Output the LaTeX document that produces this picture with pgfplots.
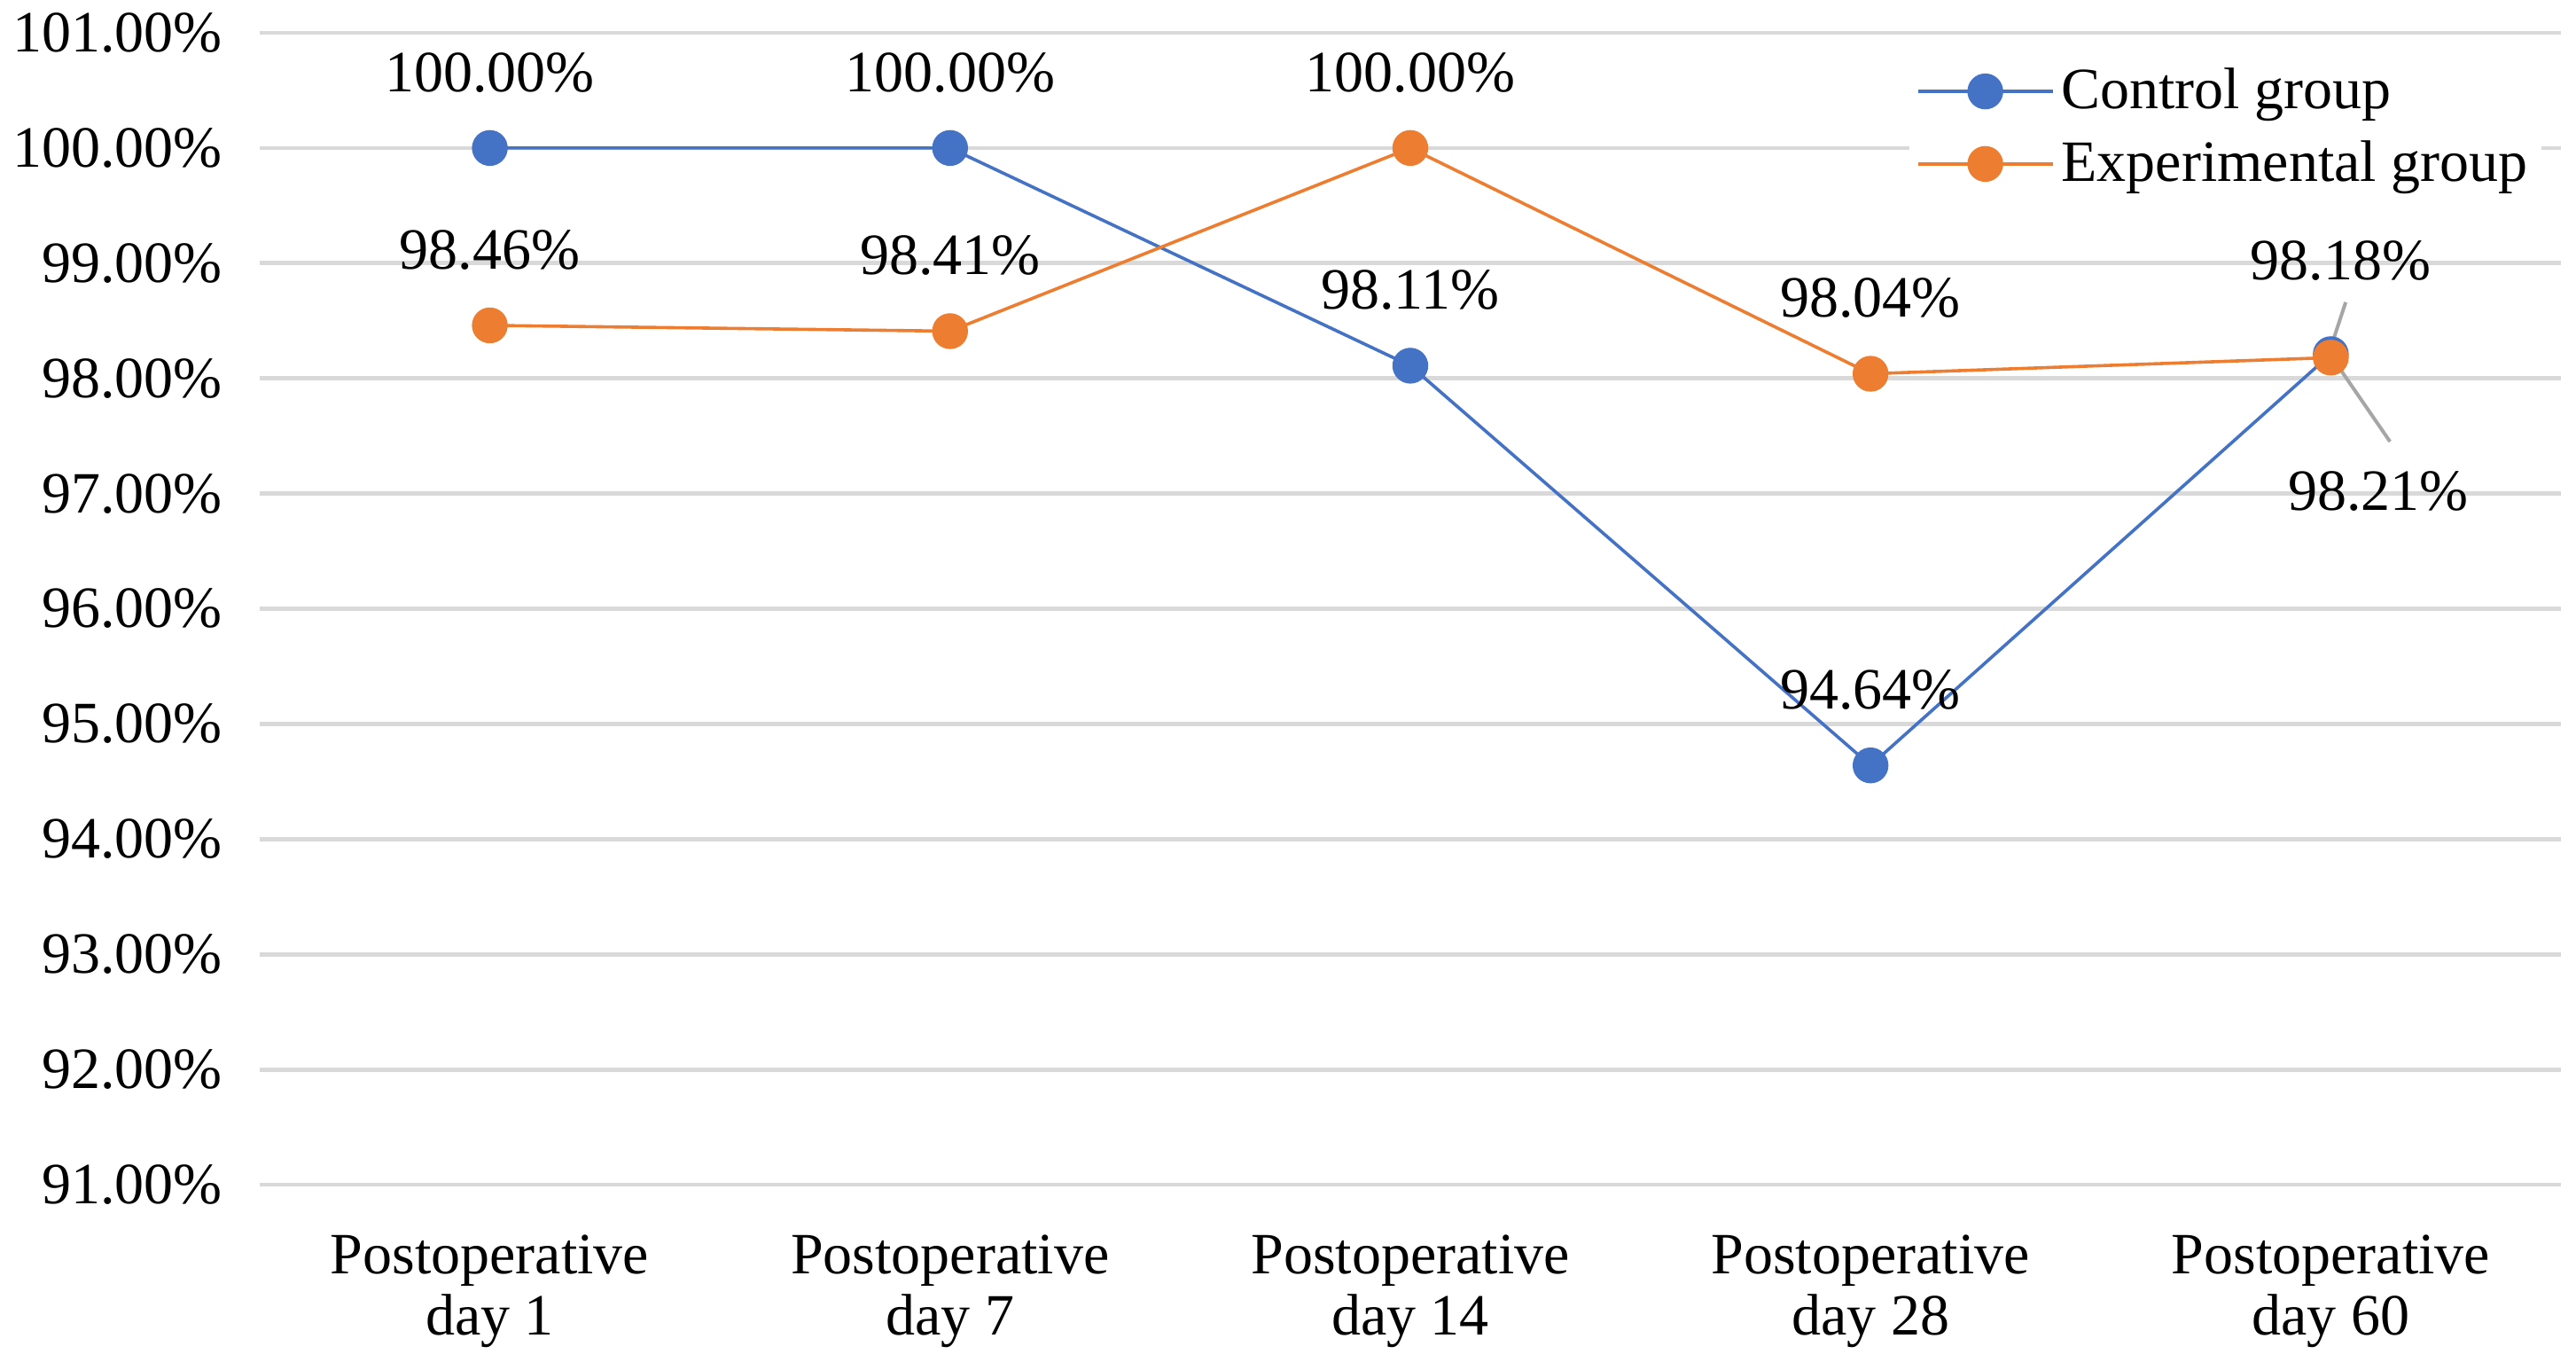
\documentclass[border=0pt]{standalone}
\usepackage{pgfplots}
\pgfplotsset{compat=1.18}
\usepackage{fontspec}
\setmainfont{Liberation Serif}
\definecolor{ctrl}{HTML}{4472C4}
\definecolor{expt}{HTML}{ED7D31}
\definecolor{gridc}{HTML}{D9D9D9}
\definecolor{leader}{HTML}{A6A6A6}

\begin{document}
\begin{tikzpicture}[font=\fontsize{16.5}{17.2}\selectfont]
\begin{axis}[
  scale only axis,
  width=649pt, height=324.75pt,
  xmin=-0.5, xmax=4.5,
  ymin=91, ymax=101,
  xtick={0,1,2,3,4},
  xticklabels={{Postoperative\\day 1},{Postoperative\\day 7},{Postoperative\\day 14},{Postoperative\\day 28},{Postoperative\\day 60}},
  x tick label style={align=center, anchor=north, yshift=-10.6pt},
  ytick={91,92,...,101},
  yticklabels={91.00\%,92.00\%,93.00\%,94.00\%,95.00\%,96.00\%,97.00\%,98.00\%,99.00\%,100.00\%,101.00\%},
  y tick label style={anchor=east, xshift=-7pt},
  ymajorgrids,
  major grid style={gridc, line width=1.2pt},
  axis line style={draw=none},
  tick style={draw=none},
  clip=false,
  legend style={at={(0.992,0.982)}, anchor=north east, draw=none, fill=white,
    inner sep=2pt, row sep=3.5pt, font=\fontsize{16.5}{17.2}\selectfont},
  legend cell align=left,
  legend image code/.code={\draw[mark repeat=2,mark phase=2,#1] plot coordinates {(0pt,0pt)(19pt,0pt)(38pt,0pt)};},
]
\addplot[ctrl, line width=0.9pt, mark=*, mark size=4.6pt,
  point meta=explicit symbolic,
  nodes near coords,
  nodes near coords style={anchor=center, yshift=21.3pt, text=black},
  coordinate style/.condition={x==4}{xshift=13.4pt, yshift=-60pt}]
  coordinates {(0,100) [100.00\%] (1,100) [100.00\%] (2,98.11) [98.11\%] (3,94.64) [94.64\%] (4,98.21) [98.21\%]};
\addlegendentry{Control group}
\addplot[expt, line width=0.9pt, mark=*, mark size=4.6pt,
  point meta=explicit symbolic,
  nodes near coords,
  nodes near coords style={anchor=center, yshift=21.3pt, text=black},
  coordinate style/.condition={x==4}{xshift=2.8pt, yshift=6pt}]
  coordinates {(0,98.46) [98.46\%] (1,98.41) [98.41\%] (2,100) [100.00\%] (3,98.04) [98.04\%] (4,98.18) [98.18\%]};
\addlegendentry{Experimental group}
\draw[leader, line width=1pt] ([shift={(4.2pt,15.3pt)}]axis cs:4,98.19) -- ([shift={(-0.5pt,1pt)}]axis cs:4,98.19)
  -- ([shift={(16.7pt,-24pt)}]axis cs:4,98.19);
\end{axis}
\pgfresetboundingbox
\path (-73.25pt,-49.75pt) rectangle (653.25pt,334pt);
\end{tikzpicture}
\end{document}
